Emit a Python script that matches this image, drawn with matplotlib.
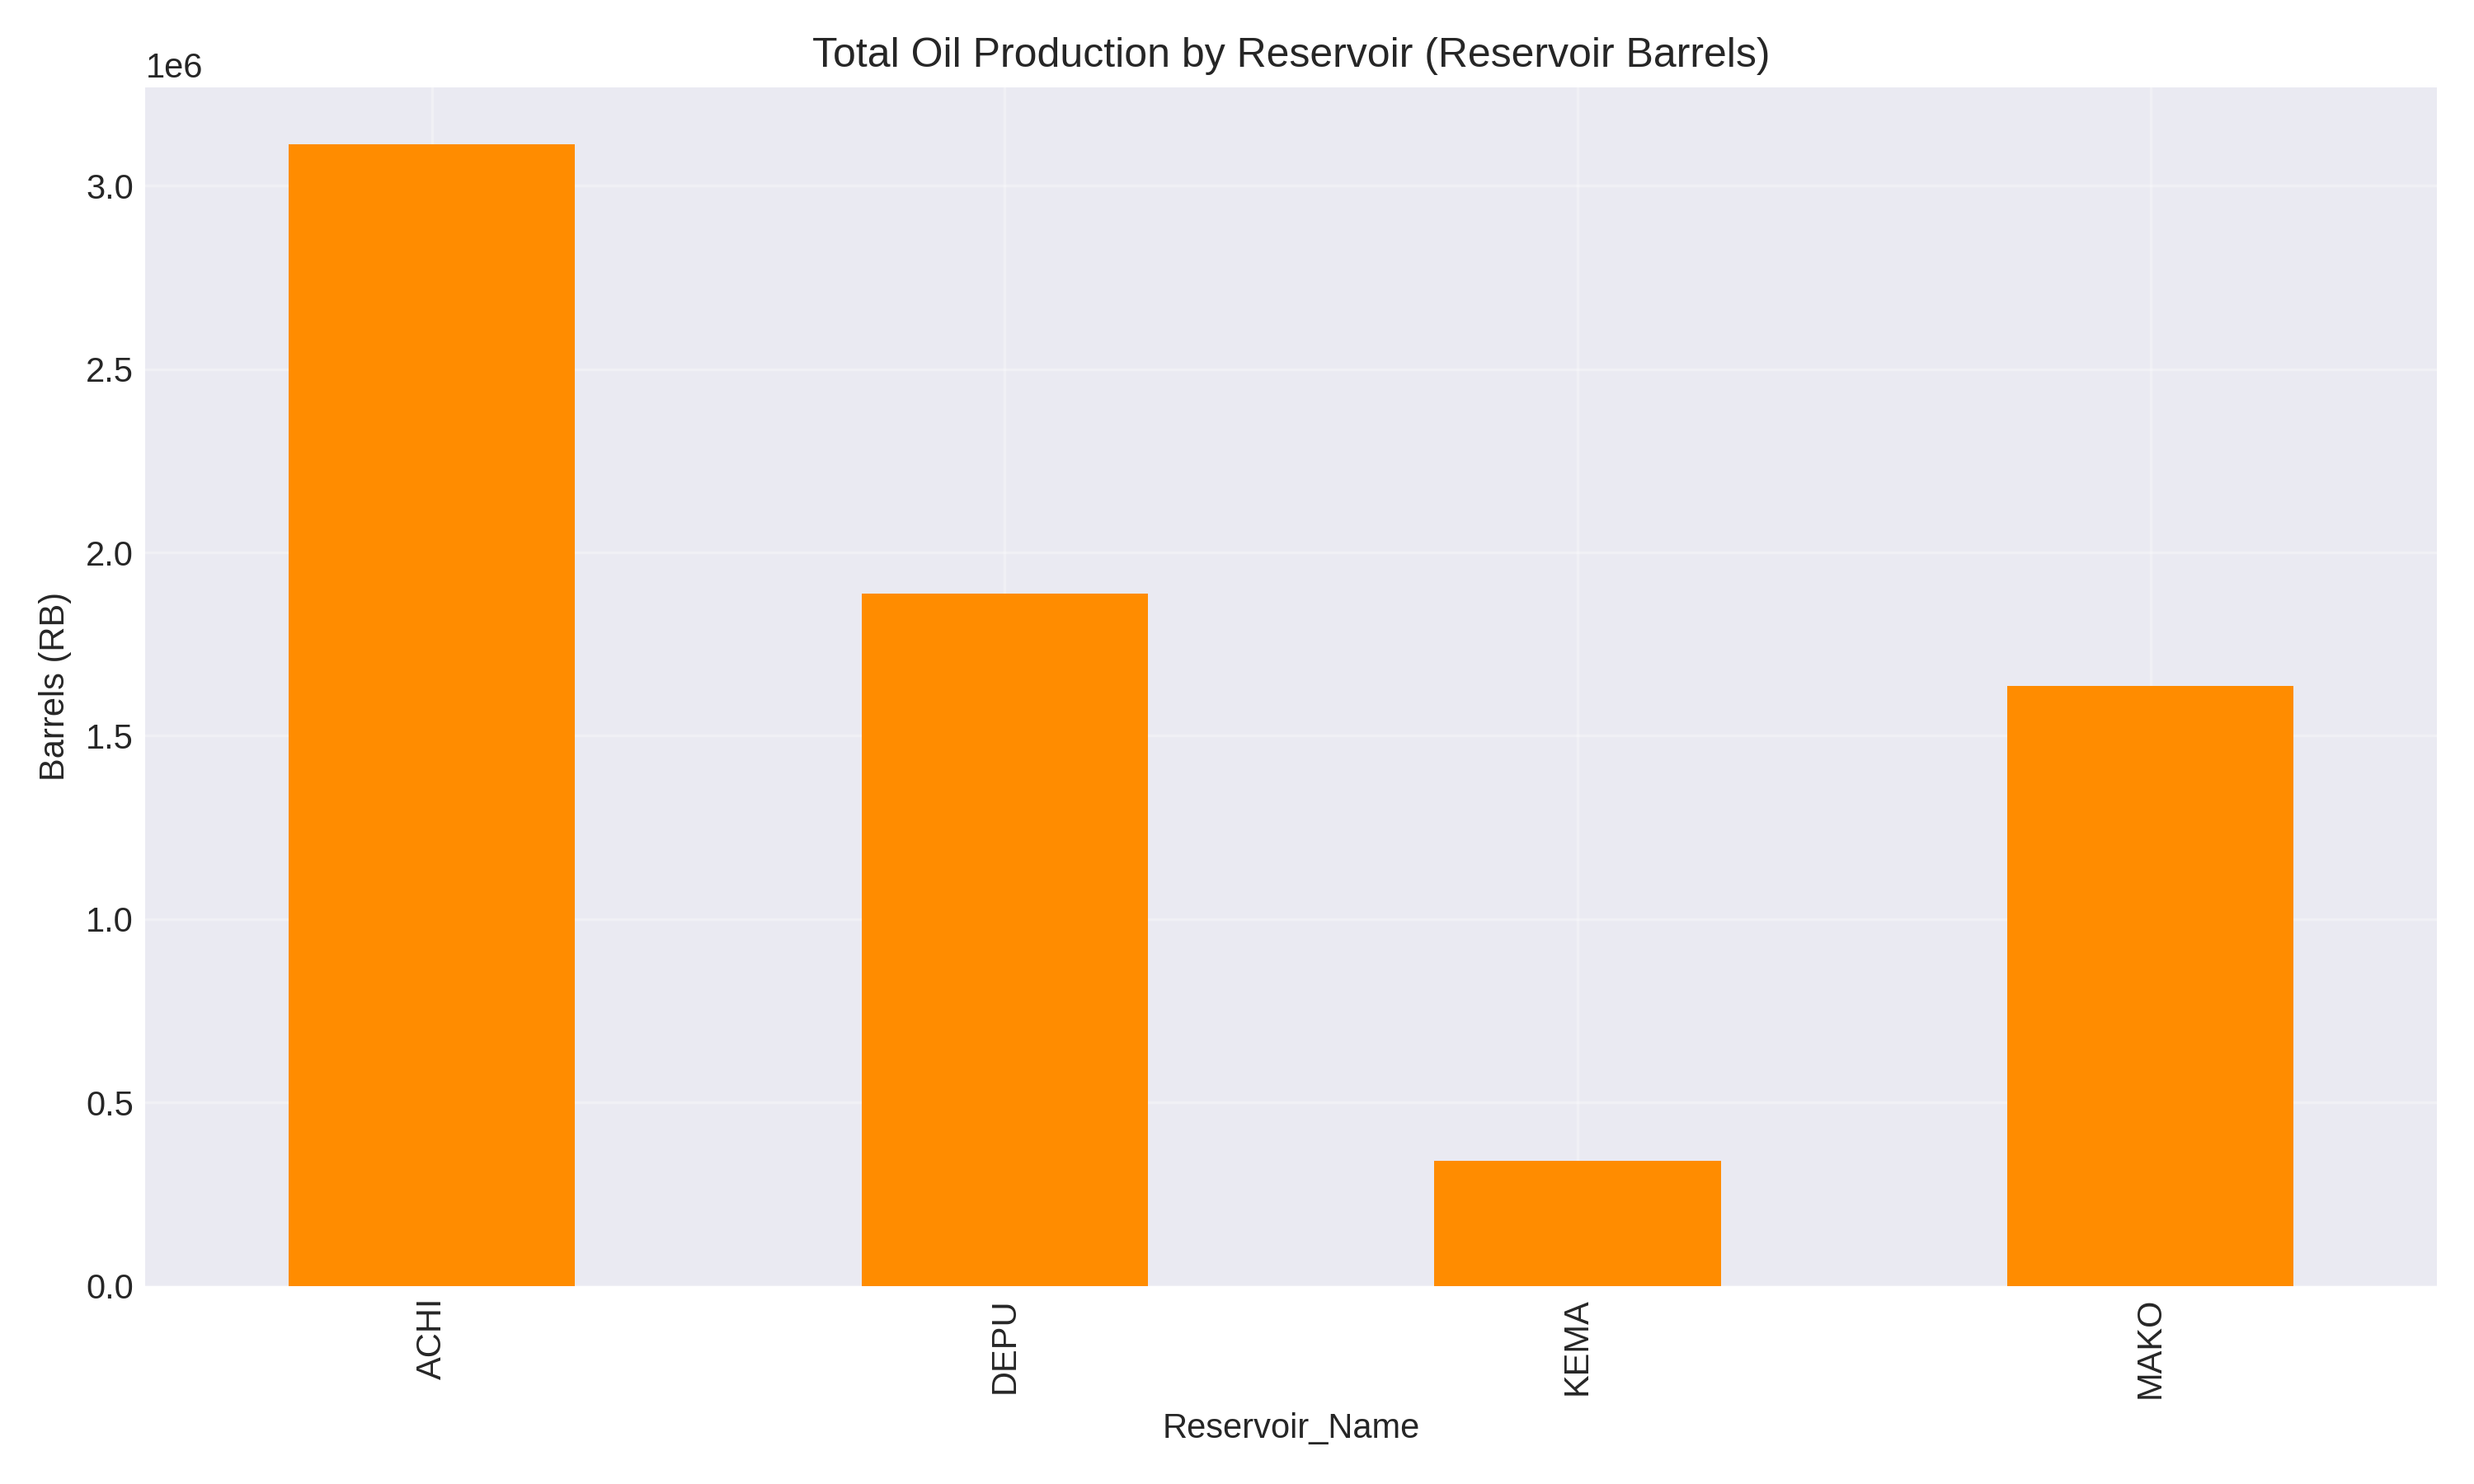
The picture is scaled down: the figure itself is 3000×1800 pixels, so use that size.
import matplotlib
matplotlib.use("Agg")
import matplotlib.pyplot as plt
import pandas as pd

reservoirs = ["ACHI", "DEPU", "KEMA", "MAKO"]
oil_rb = [3.113e6, 1.889e6, 0.341e6, 1.637e6]

plt.style.use("seaborn-v0_8-darkgrid")
plt.rcParams['font.family'] = ['Liberation Sans', 'DejaVu Sans']

totals = pd.Series(oil_rb, index=pd.Index(reservoirs, name="Reservoir_Name"))

fig, ax = plt.subplots(figsize=(10, 6))
totals.plot(kind="bar", color="darkorange", ax=ax)
ax.set_title("Total Oil Production by Reservoir (Reservoir Barrels)")
ax.set_ylabel("Barrels (RB)")
ax.grid(True, alpha=0.3)
plt.tight_layout()
plt.savefig("out.png", dpi=300)
plt.close()
